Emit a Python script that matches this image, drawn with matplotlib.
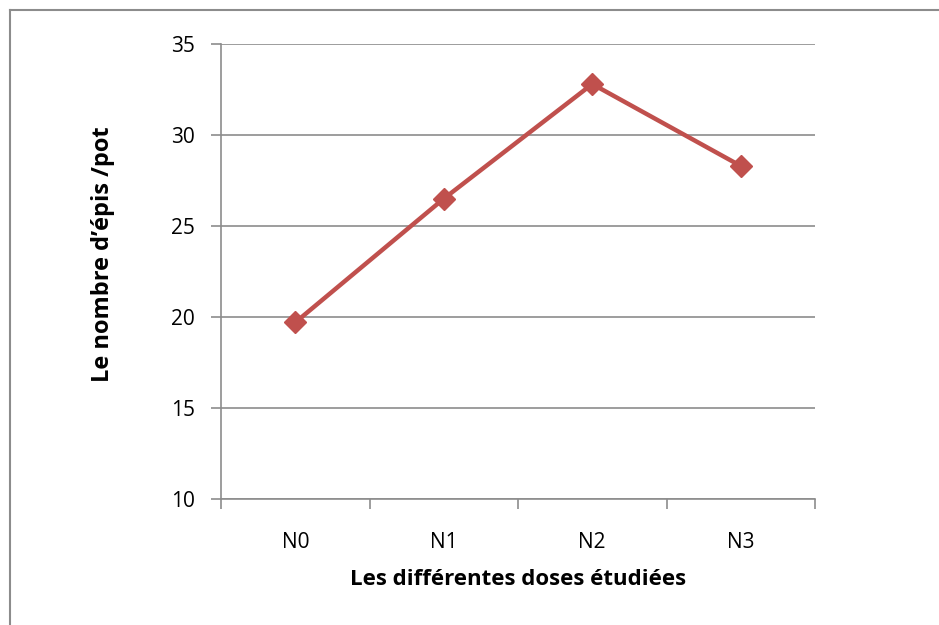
import matplotlib
matplotlib.use("Agg")
import matplotlib.pyplot as plt
from matplotlib.lines import Line2D

# data
doses = ["N0", "N1", "N2", "N3"]
epis = [19.7, 26.5, 32.8, 28.3]
y_ticks = [10, 15, 20, 25, 30, 35]

plt.rcParams['font.family'] = ['Open Sans', 'DejaVu Sans']

fig = plt.figure(figsize=(9.39, 6.25), dpi=100)
ax = fig.add_axes([221 / 939, 1 - 499 / 625, 594 / 939, 455 / 625])

grid_col = "#8c8c8c"
xs = list(range(len(doses)))
ax.plot(xs, epis, color="#C0504D", lw=3.2, marker="D", markersize=11,
        markerfacecolor="#C0504D", markeredgecolor="#C0504D", zorder=3,
        solid_joinstyle="round")

ax.set_xlim(-0.5, len(doses) - 0.5)
ax.set_ylim(y_ticks[0], y_ticks[-1])
ax.set_yticks(y_ticks)
ax.yaxis.grid(True, color=grid_col, lw=1.2)
ax.set_axisbelow(True)

# category ticks sit between the categories, labels in the middle
ax.set_xticks([i - 0.5 for i in range(len(doses) + 1)])
ax.set_xticklabels([])
ax.set_xticks(xs, minor=True)
ax.set_xticklabels(doses, minor=True, fontsize=15)
ax.tick_params(axis="x", which="minor", length=0, pad=24)
ax.tick_params(axis="x", which="major", length=7, color=grid_col, width=1.2)
ax.tick_params(axis="y", length=7, color=grid_col, width=1.2, labelsize=15, pad=12)

for side in ["top", "right"]:
    ax.spines[side].set_visible(False)
for side in ["left", "bottom"]:
    ax.spines[side].set_color(grid_col)
    ax.spines[side].set_linewidth(1.2)

ax.set_xlabel("Les différentes doses étudiées", fontsize=16, fontweight="bold", va="center")
ax.xaxis.set_label_coords(0.5, -0.176)
ax.set_ylabel("Le nombre d\u2019épis /pot", fontsize=17, fontweight="bold", va="center")
ax.yaxis.set_label_coords(-0.199, 0.538)

# outer chart frame (only top and left edges are visible)
fig.add_artist(Line2D([9.5 / 939, 1], [1 - 9.5 / 625, 1 - 9.5 / 625],
                      color="#8c8c8c", lw=1.5, transform=fig.transFigure))
fig.add_artist(Line2D([9.5 / 939, 9.5 / 939], [0, 1 - 9.5 / 625],
                      color="#8c8c8c", lw=1.5, transform=fig.transFigure))

fig.savefig("out.png", dpi=100)
